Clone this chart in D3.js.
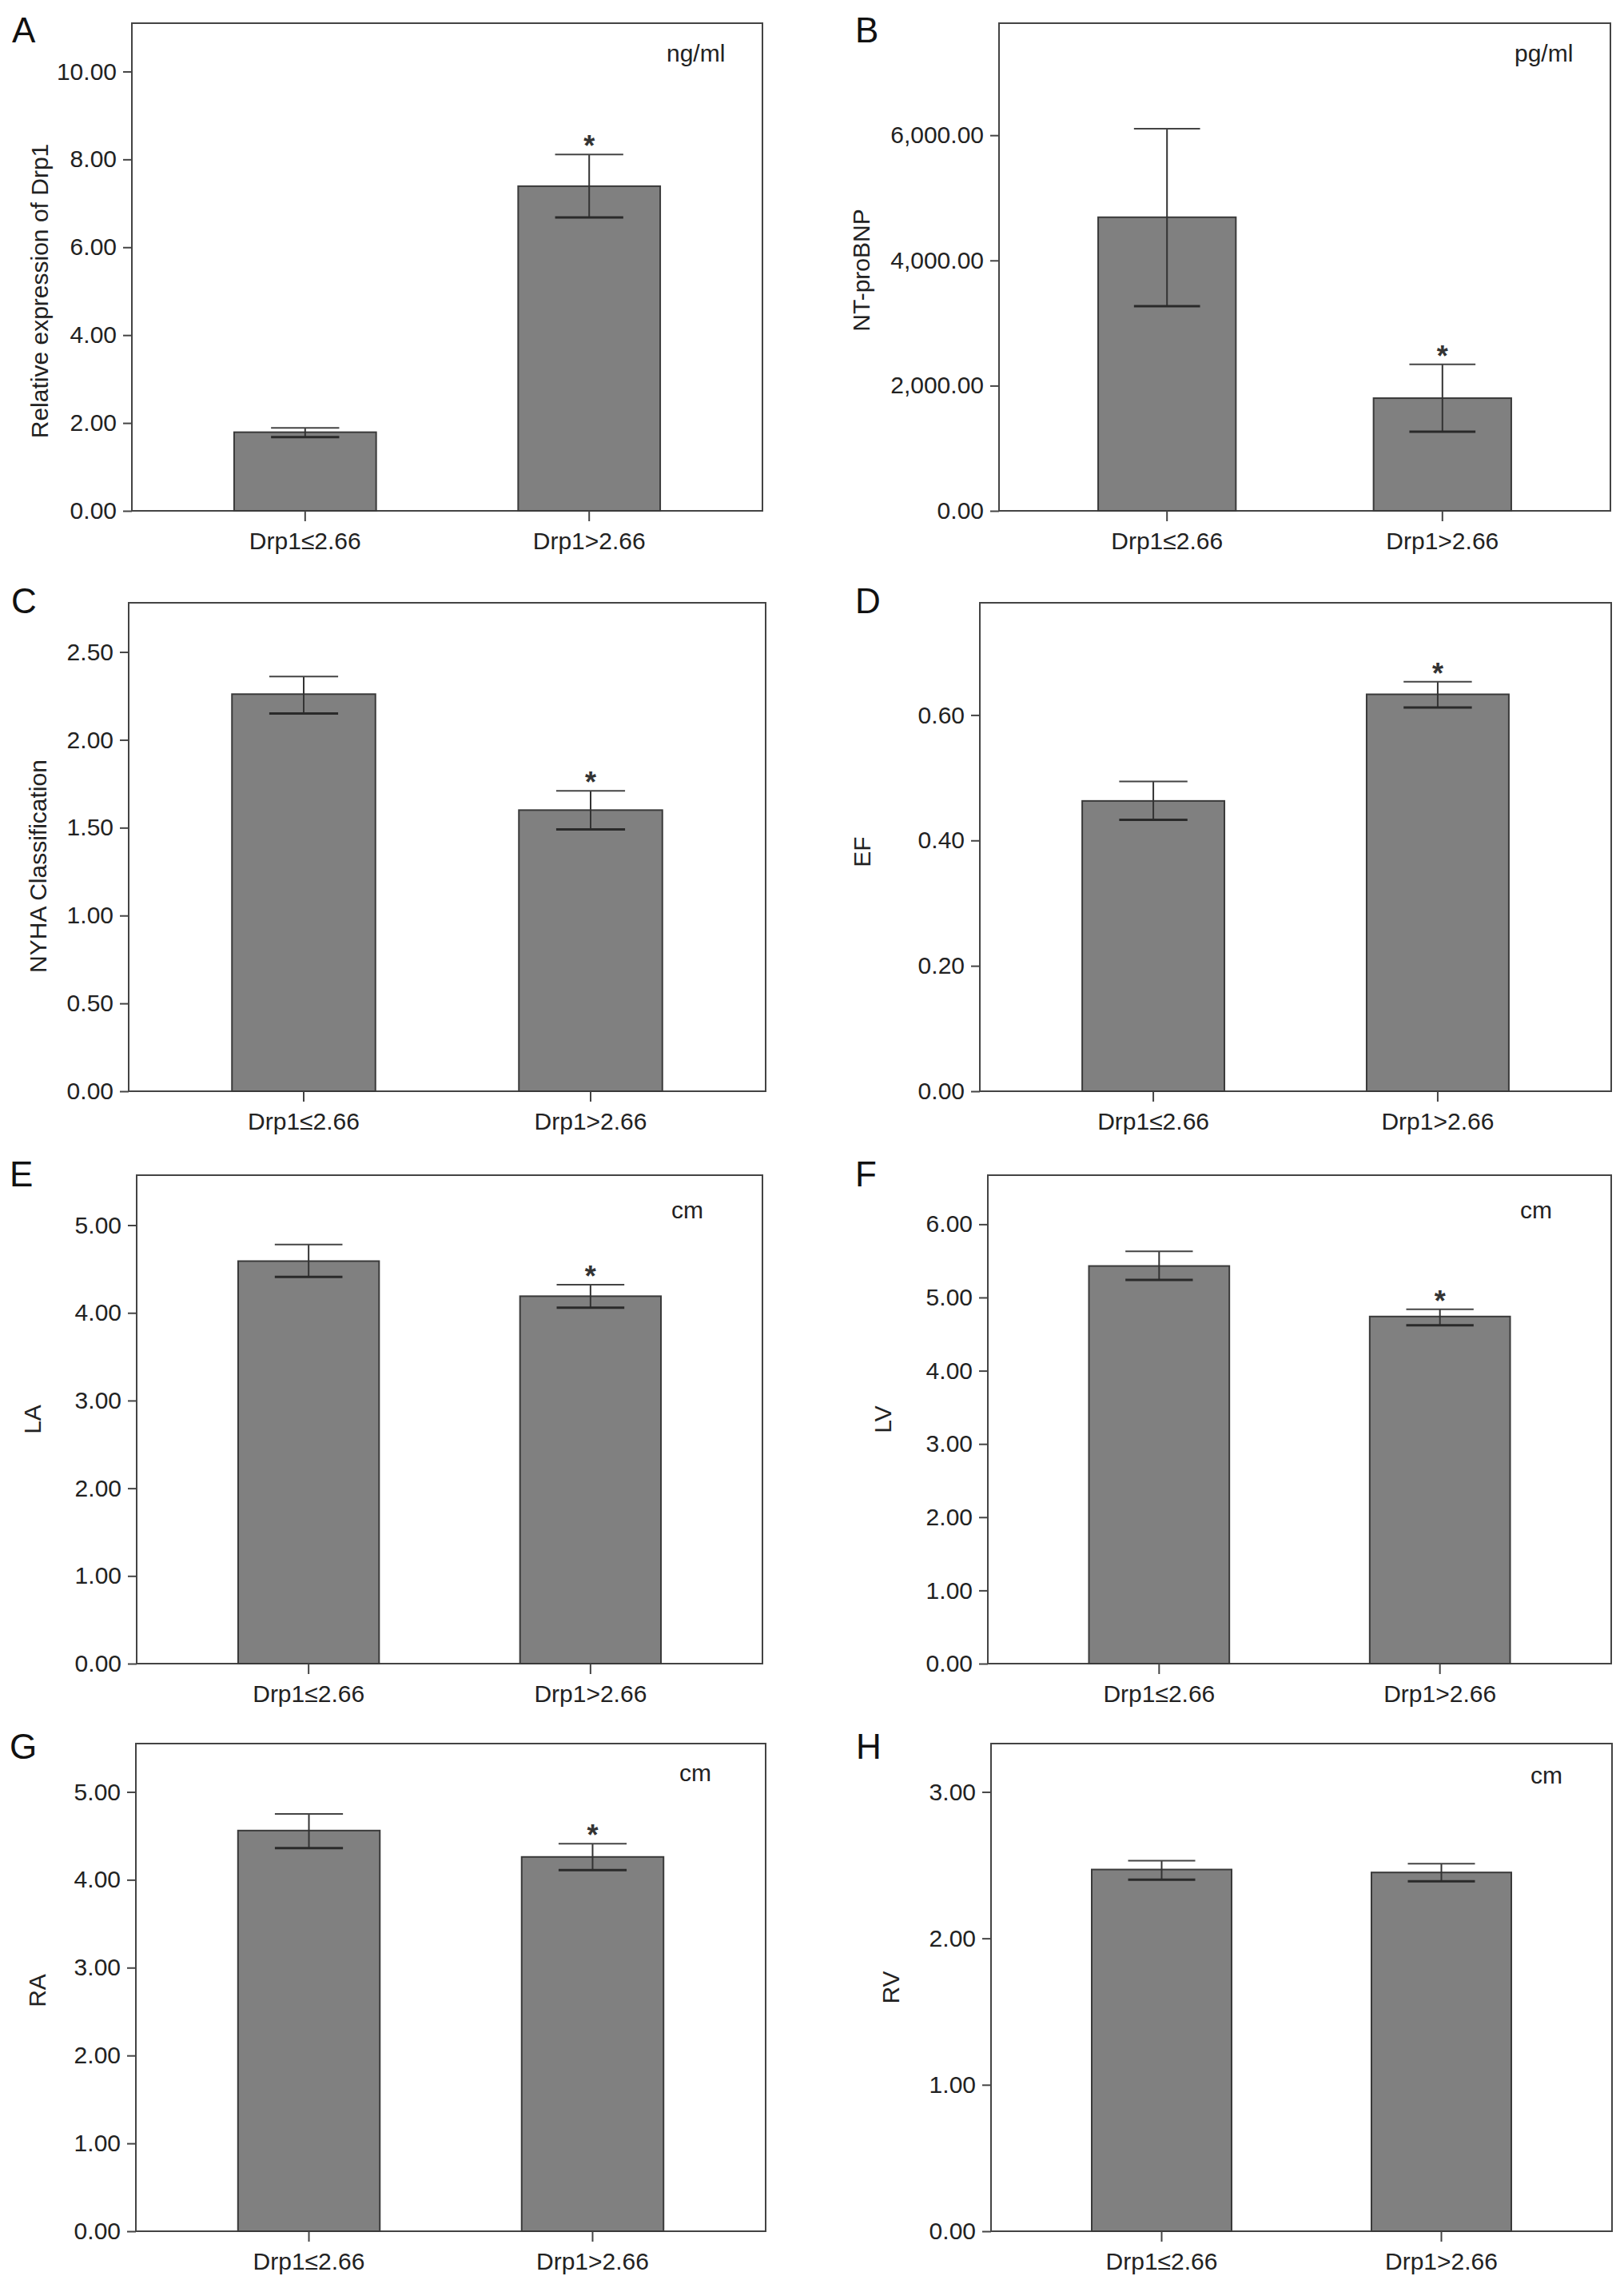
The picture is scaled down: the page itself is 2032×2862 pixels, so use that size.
<!DOCTYPE html>
<html>
<head>
<meta charset="utf-8">
<script src="https://cdn.jsdelivr.net/npm/d3@7"></script>
<style>
  html, body { margin: 0; padding: 0; background: #fff; }
  svg { display: block; }
  text { font-family: "Liberation Sans", Arial, Helvetica, sans-serif; fill: #222; }
</style>
</head>
<body>
<svg id="chart" width="2032" height="2862"></svg>
<script>
// ---------- data ----------
const categories = ["Drp1≤2.66", "Drp1>2.66"];
const panelLetters = ["A", "B", "C", "D", "E", "F", "G", "H"];
const yTitles = ["Relative expression of Drp1", "NT-proBNP", "NYHA Classification", "EF", "LA", "LV", "RA", "RV"];
const unitLabels = ["ng/ml", "pg/ml", "", "", "cm", "cm", "cm", "cm"];

const meansA = [1.79, 7.39],  lowerA = [1.68, 6.68],  upperA = [1.89, 8.11];
const meansB = [4690, 1800],  lowerB = [3270, 1265],  upperB = [6105, 2340];
const meansC = [2.26, 1.60],  lowerC = [2.15, 1.49],  upperC = [2.36, 1.71];
const meansD = [0.463, 0.633], lowerD = [0.433, 0.612], upperD = [0.494, 0.653];
const meansE = [4.59, 4.19],  lowerE = [4.41, 4.06],  upperE = [4.78, 4.32];
const meansF = [5.43, 4.74],  lowerF = [5.24, 4.62],  upperF = [5.63, 4.84];
const meansG = [4.56, 4.26],  lowerG = [4.36, 4.11],  upperG = [4.75, 4.41];
const meansH = [2.47, 2.45],  lowerH = [2.40, 2.39],  upperH = [2.53, 2.51];

const significant = [
  [false, true], [false, true], [false, true], [false, true],
  [false, true], [false, true], [false, true], [false, false]
];

const yMaxValues = [11.1, 7790, 2.78, 0.779, 5.57, 6.67, 5.55, 3.33];
const tickValues = [
  [0, 2, 4, 6, 8, 10],
  [0, 2000, 4000, 6000],
  [0, 0.5, 1.0, 1.5, 2.0, 2.5],
  [0, 0.2, 0.4, 0.6],
  [0, 1, 2, 3, 4, 5],
  [0, 1, 2, 3, 4, 5, 6],
  [0, 1, 2, 3, 4, 5],
  [0, 1, 2, 3]
];
const tickFormats = [".2f", ",.2f", ".2f", ".2f", ".2f", ".2f", ".2f", ".2f"];

const meansAll = [meansA, meansB, meansC, meansD, meansE, meansF, meansG, meansH];
const lowerAll = [lowerA, lowerB, lowerC, lowerD, lowerE, lowerF, lowerG, lowerH];
const upperAll = [upperA, upperB, upperC, upperD, upperE, upperF, upperG, upperH];

// ---------- layout (pixel positions, separate from data) ----------
const layout = [
  { x0: 165,  x1: 954,  y0: 29,   y1: 639,  lx: 15,   ly: 53,   ux: 834,  uy: 77,   tx: 52,   tdy: 30 },
  { x0: 1250, x1: 2015, y0: 29,   y1: 639,  lx: 1070, ly: 53,   ux: 1895, uy: 77,   tx: 1080, tdy: 4 },
  { x0: 161,  x1: 958,  y0: 754,  y1: 1365, lx: 14,   ly: 767,  ux: 0,    uy: 0,    tx: 50,   tdy: 24 },
  { x0: 1226, x1: 2016, y0: 754,  y1: 1365, lx: 1070, ly: 767,  ux: 0,    uy: 0,    tx: 1081, tdy: 6 },
  { x0: 171,  x1: 954,  y0: 1470, y1: 2081, lx: 12,   ly: 1484, ux: 840,  uy: 1524, tx: 43,   tdy: 0 },
  { x0: 1236, x1: 2016, y0: 1470, y1: 2081, lx: 1070, ly: 1484, ux: 1902, uy: 1524, tx: 1107, tdy: 0 },
  { x0: 170,  x1: 958,  y0: 2181, y1: 2791, lx: 12,   ly: 2200, ux: 850,  uy: 2228, tx: 49,   tdy: 4 },
  { x0: 1240, x1: 2017, y0: 2181, y1: 2791, lx: 1071, ly: 2200, ux: 1915, uy: 2231, tx: 1117, tdy: 0 }
];

const FS = 30;
const barFill = "#808080";
const lineColor = "#333";

const svg = d3.select("#chart");

panelLetters.forEach((letter, i) => {
  const L = layout[i];
  const g = svg.append("g");

  const x = d3.scaleBand()
    .domain(categories)
    .range([L.x0, L.x1])
    .paddingInner(0.5)
    .paddingOuter(0.36);

  const y = d3.scaleLinear()
    .domain([0, yMaxValues[i]])
    .range([L.y1, L.y0]);

  const rows = categories.map((c, k) => ({
    cat: c, mean: meansAll[i][k], lo: lowerAll[i][k], hi: upperAll[i][k], sig: significant[i][k]
  }));

  // frame
  g.append("rect")
    .attr("x", L.x0).attr("y", L.y0)
    .attr("width", L.x1 - L.x0).attr("height", L.y1 - L.y0)
    .attr("fill", "none").attr("stroke", "#444").attr("stroke-width", 2);

  // bars
  g.selectAll("rect.bar").data(rows).join("rect")
    .attr("class", "bar")
    .attr("x", d => x(d.cat))
    .attr("y", d => y(d.mean))
    .attr("width", x.bandwidth())
    .attr("height", d => y(0) - y(d.mean))
    .attr("fill", barFill)
    .attr("stroke", "#3a3a3a")
    .attr("stroke-width", 2);

  // error bars
  const capHalf = x.bandwidth() * 0.24;
  const eb = g.selectAll("g.err").data(rows).join("g").attr("class", "err");
  eb.append("line")
    .attr("x1", d => x(d.cat) + x.bandwidth() / 2)
    .attr("x2", d => x(d.cat) + x.bandwidth() / 2)
    .attr("y1", d => y(d.lo)).attr("y2", d => y(d.hi))
    .attr("stroke", lineColor).attr("stroke-width", 2);
  eb.append("line")
    .attr("x1", d => x(d.cat) + x.bandwidth() / 2 - capHalf)
    .attr("x2", d => x(d.cat) + x.bandwidth() / 2 + capHalf)
    .attr("y1", d => y(d.hi)).attr("y2", d => y(d.hi))
    .attr("stroke", "#444").attr("stroke-width", 2);
  eb.append("line")
    .attr("x1", d => x(d.cat) + x.bandwidth() / 2 - capHalf)
    .attr("x2", d => x(d.cat) + x.bandwidth() / 2 + capHalf)
    .attr("y1", d => y(d.lo)).attr("y2", d => y(d.lo))
    .attr("stroke", "#2a2a2a").attr("stroke-width", 3);

  // significance asterisks
  const starFs = 36;
  g.selectAll("text.star").data(rows.filter(d => d.sig)).join("text")
    .attr("class", "star")
    .attr("x", d => x(d.cat) + x.bandwidth() / 2)
    .attr("y", d => y(d.hi) - 19 + 0.58 * starFs)
    .attr("text-anchor", "middle")
    .attr("font-size", starFs)
    .attr("font-weight", "bold")
    .style("fill", "#333")
    .text("*");

  // y axis
  const yAxis = d3.axisLeft(y)
    .tickValues(tickValues[i])
    .tickFormat(d3.format(tickFormats[i]))
    .tickSize(11).tickSizeOuter(0).tickPadding(8);
  const ya = g.append("g").attr("transform", `translate(${L.x0},0)`).call(yAxis);
  ya.select(".domain").remove();
  ya.selectAll(".tick line").attr("stroke", "#444").attr("stroke-width", 2);
  ya.selectAll(".tick text").attr("font-size", FS).style("font-family", '"Liberation Sans", Arial, sans-serif').style("fill", "#222");

  // x axis
  const xAxis = d3.axisBottom(x).tickSize(13).tickSizeOuter(0).tickPadding(14);
  const xa = g.append("g").attr("transform", `translate(0,${L.y1})`).call(xAxis);
  xa.select(".domain").remove();
  xa.selectAll(".tick line").attr("stroke", "#444").attr("stroke-width", 2);
  xa.selectAll(".tick text").attr("font-size", FS).style("font-family", '"Liberation Sans", Arial, sans-serif').style("fill", "#222");

  // y title
  g.append("text")
    .attr("transform", `translate(${L.tx},${(L.y0 + L.y1) / 2 + L.tdy}) rotate(-90)`)
    .attr("text-anchor", "middle")
    .attr("dominant-baseline", "middle")
    .attr("font-size", FS)
    .text(yTitles[i]);

  // unit label
  if (unitLabels[i]) {
    g.append("text")
      .attr("x", L.ux).attr("y", L.uy)
      .attr("font-size", FS)
      .text(unitLabels[i]);
  }

  // panel letter
  g.append("text")
    .attr("x", L.lx).attr("y", L.ly)
    .attr("font-size", 44)
    .style("fill", "#111")
    .text(letter);
});
</script>
</body>
</html>
